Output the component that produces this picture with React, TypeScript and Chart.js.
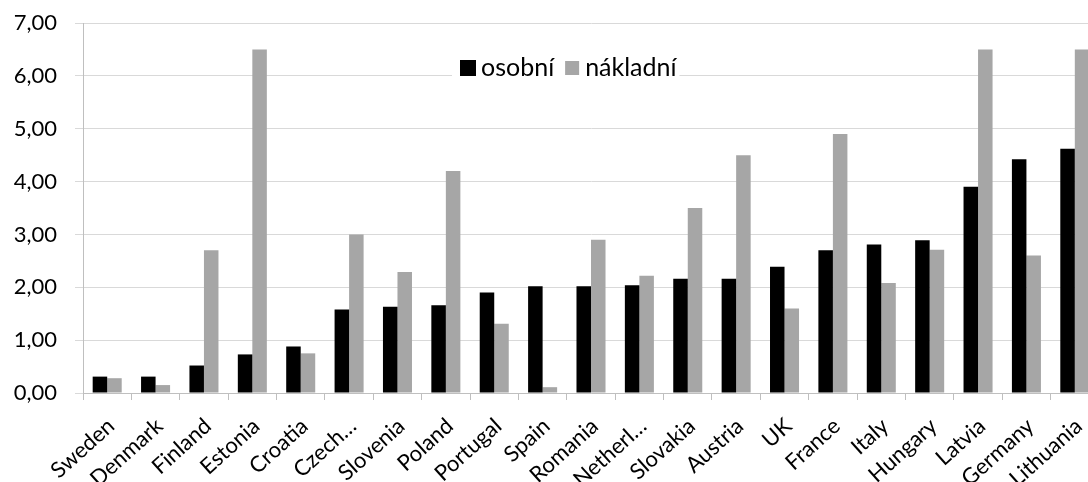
import React, { useEffect, useRef } from "react";
import { Chart, registerables } from "chart.js";

Chart.register(...registerables);

const categories = [
  "Sweden", "Denmark", "Finland", "Estonia", "Croatia", "Czech…", "Slovenia",
  "Poland", "Portugal", "Spain", "Romania", "Netherl…", "Slovakia", "Austria",
  "UK", "France", "Italy", "Hungary", "Latvia", "Germany", "Lithuania",
];

const osobni = [
  0.31, 0.31, 0.52, 0.73, 0.88, 1.58, 1.63, 1.66, 1.9, 2.02, 2.02, 2.04, 2.16,
  2.16, 2.39, 2.7, 2.81, 2.89, 3.9, 4.42, 4.62,
];

const nakladni = [
  0.28, 0.15, 2.7, 6.5, 0.75, 3.0, 2.29, 4.2, 1.31, 0.11, 2.9, 2.22, 3.5, 4.5,
  1.6, 4.9, 2.08, 2.71, 6.5, 2.6, 6.5,
];

const seriesNames = ["osobní", "nákladní"];
const seriesColors = ["#000000", "#A6A6A6"];
const yTickLabels = ["0,00", "1,00", "2,00", "3,00", "4,00", "5,00", "6,00", "7,00"];

const FONT = "Lato, 'DejaVu Sans', sans-serif";

const legendPlugin = {
  id: "insideLegend",
  afterDatasetsDraw(chart: any) {
    const ctx = chart.ctx;
    const x0 = 452;
    const cy = 68;
    ctx.save();
    ctx.font = `25px ${FONT}`;
    const w1 = ctx.measureText(seriesNames[0]).width;
    const w2 = ctx.measureText(seriesNames[1]).width;
    const box = 14;
    const gap = 6;
    const itemGap = 11;
    const total = 9 + box + gap + w1 + itemGap + box + gap + w2 + 3;
    ctx.fillStyle = "#ffffff";
    ctx.fillRect(x0, cy - 12, total, 24);
    let x = x0 + 9;
    ctx.textBaseline = "middle";
    ctx.textAlign = "left";
    for (let i = 0; i < 2; i++) {
      ctx.fillStyle = seriesColors[i];
      if (i === 0) {
        ctx.fillRect(x - 1, cy - box / 2 - 1, box + 2, box + 2);
      } else {
        ctx.fillRect(x, cy - box / 2, box, box);
      }
      x += box + gap;
      ctx.fillStyle = "#000000";
      ctx.fillText(seriesNames[i], x, cy);
      x += (i === 0 ? w1 : w2) + itemGap;
    }
    ctx.restore();
  },
};

export default function App() {
  const ref = useRef<HTMLCanvasElement | null>(null);

  useEffect(() => {
    if (!ref.current) return;
    const chart = new Chart(ref.current, {
      type: "bar",
      data: {
        labels: categories,
        datasets: [
          {
            label: seriesNames[0],
            data: osobni,
            backgroundColor: seriesColors[0],
            borderWidth: 0,
            categoryPercentage: 0.6,
            barPercentage: 1.0,
          },
          {
            label: seriesNames[1],
            data: nakladni,
            backgroundColor: seriesColors[1],
            borderWidth: 0,
            categoryPercentage: 0.6,
            barPercentage: 1.0,
          },
        ],
      },
      options: {
        responsive: false,
        animation: false,
        devicePixelRatio: 1,
        layout: { padding: { top: 23, right: 1, left: 0, bottom: 0 } },
        plugins: {
          legend: { display: false },
          tooltip: { enabled: false },
        },
        scales: {
          x: {
            grid: {
              offset: true,
              drawOnChartArea: false,
              drawTicks: true,
              tickLength: 7,
              color: "#BFBFBF",
            },
            border: { color: "#BFBFBF", width: 1 },
            ticks: {
              font: { family: FONT, size: 22 },
              color: "#000000",
              minRotation: 42,
              maxRotation: 42,
              autoSkip: false,
              padding: 13,
              labelOffset: 4,
            },
            afterFit: (scale: any) => {
              scale.height = 89;
              scale.paddingLeft = 0;
              scale.paddingRight = 0;
            },
          },
          y: {
            min: 0,
            max: 7,
            ticks: {
              stepSize: 1,
              font: { family: FONT, size: 22 },
              color: "#000000",
              padding: 18,
              callback: (_v: any, i: number) => yTickLabels[i],
            },
            grid: {
              color: "#D9D9D9",
              tickLength: 8,
              lineWidth: 1,
            },
            border: { color: "#BFBFBF", width: 1 },
            afterFit: (scale: any) => {
              scale.width = 83;
              scale.paddingTop = 0;
              scale.paddingBottom = 0;
            },
          },
        },
      },
      plugins: [legendPlugin],
    });
    return () => chart.destroy();
  }, []);

  return (
    <div
      style={{
        position: "fixed",
        left: 0,
        top: 0,
        width: 1088,
        height: 482,
        overflow: "hidden",
        background: "#ffffff",
      }}
    >
      <canvas ref={ref} width={1100} height={482} style={{ width: 1100, height: 482 }} />
    </div>
  );
}
